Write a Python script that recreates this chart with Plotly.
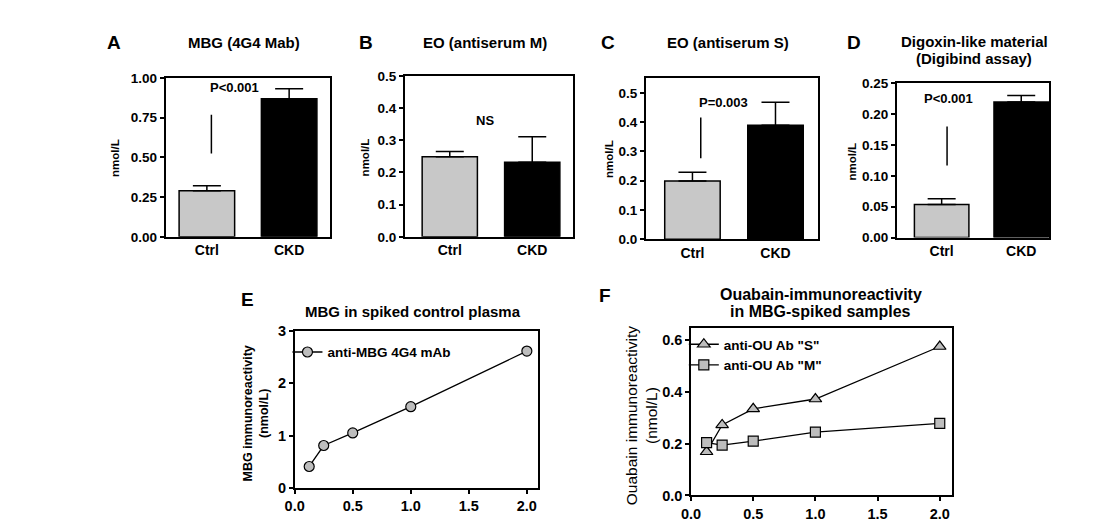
import plotly.graph_objects as go

W, H = 1100, 528
FONT = "Liberation Sans, Arial, Helvetica, sans-serif"

# ---------------- data ----------------
groups = ["Ctrl", "CKD"]
A_means = [0.29, 0.868]
A_sem = [0.031, 0.063]
B_means = [0.249, 0.232]
B_sem = [0.016, 0.079]
C_means = [0.199, 0.390]
C_sem = [0.030, 0.078]
D_means = [0.0533, 0.2196]
D_sem = [0.0094, 0.0104]

spike_mbg = [0.125, 0.25, 0.5, 1.0, 2.0]
E_mbg_4g4 = [0.41, 0.81, 1.05, 1.55, 2.61]
F_ab_S = [0.169, 0.273, 0.335, 0.373, 0.576]
F_ab_M = [0.204, 0.195, 0.210, 0.245, 0.279]

bar_colors = ["#c8c8c8", "#000000"]

# ---------------- layout helpers ----------------
def dx(x0, x1):
    return [x0 / W, x1 / W]

def dy(y_top, y_bot):
    return [1 - y_bot / H, 1 - y_top / H]

def px(x):
    return x / W

def py(y):
    return 1 - y / H

fig = go.Figure()
annotations = []
shapes = []

bar_panels = [
    dict(k="1", means=A_means, sem=A_sem, box=(157, 323.3, 72, 236), xr=[-0.502, 1.501],
         yr=[0, 1.0], dtick=0.25, fmt=".2f", w=0.675, letter="A", letter_x=105,
         title=["MBG (4G4 Mab)"], title_x=236, ylab_x=106.7),
    dict(k="2", means=B_means, sem=B_sem, box=(398.3, 568.3, 70, 236), xr=[-0.547, 1.496],
         yr=[0, 0.5], dtick=0.1, fmt=".1f", w=0.67, letter="B", letter_x=359.3,
         title=["EO (antiserum M)"], title_x=479, ylab_x=358.3),
    dict(k="3", means=C_means, sem=C_sem, box=(641.7, 815, 72, 238.4), xr=[-0.561, 1.507],
         yr=[0, 0.552], dtick=0.1, fmt=".1f", w=0.668, letter="C", letter_x=603.3,
         title=["EO (antiserum S)"], title_x=725, ylab_x=605),
    dict(k="4", means=D_means, sem=D_sem, box=(895, 1049, 77.5, 236.7), xr=[-0.563, 1.355],
         yr=[0, 0.25], dtick=0.05, fmt=".2f", w=0.685, letter="D", letter_x=851.7,
         title=["Digoxin-like material", "(Digibind assay)"], title_x=973, ylab_x=850),
]

axis_line = dict(showline=True, linecolor="black", linewidth=1.6, mirror=True,
                 showgrid=False, zeroline=False)

for p in bar_panels:
    k = p["k"]
    x0, x1, yt, yb = p["box"]
    fig.add_trace(go.Bar(
        x=groups, y=p["means"], width=p["w"],
        marker=dict(color=bar_colors, line=dict(color="black", width=1.5)),
        error_y=dict(type="data", symmetric=False, array=p["sem"], arrayminus=[0, 0],
                     width=14, thickness=1.5, color="black"),
        xaxis="x" + k, yaxis="y" + k, showlegend=False,
    ))
    fig.layout["xaxis" + k] = dict(
        domain=dx(x0, x1), anchor="y" + k, type="category", range=p["xr"],
        ticks="", tickfont=dict(family=FONT, size=14, color="black", weight="bold"),
        **axis_line)
    fig.layout["yaxis" + k] = dict(
        domain=dy(yt, yb), anchor="x" + k, range=p["yr"], dtick=p["dtick"], tick0=0,
        tickformat=p["fmt"], ticks="outside", ticklen=4, tickwidth=1.5, tickcolor="black",
        tickfont=dict(family=FONT, size=13.5, color="black", weight="bold"),
        **axis_line)
    annotations.append(dict(text=p["letter"], x=px(p["letter_x"]), y=py(36), xref="paper",
                            yref="paper", showarrow=False, xanchor="center", yanchor="middle",
                            font=dict(family=FONT, size=19, color="black", weight="bold")))
    tys = [36] if len(p["title"]) == 1 else [35, 52]
    for t, ty in zip(p["title"], tys):
        annotations.append(dict(text=t, x=px(p["title_x"]), y=py(ty), xref="paper", yref="paper",
                                showarrow=False, xanchor="center", yanchor="middle",
                                font=dict(family=FONT, size=15, color="black", weight="bold")))
    annotations.append(dict(text="nmol/L", x=px(p["ylab_x"]), y=py((yt + yb) / 2 + 1),
                            xref="paper", yref="paper", showarrow=False, textangle=-90,
                            xanchor="center", yanchor="middle",
                            font=dict(family=FONT, size=11.5, color="black", weight="bold")))

sig = [
    dict(k="1", text="P<0.001", tx=0.34, ty=0.937, line_x=0.055, line_y=[0.524, 0.768]),
    dict(k="2", text="NS", tx=0.427, ty=0.362, line_x=None, line_y=None),
    dict(k="3", text="P=0.003", tx=0.37, ty=0.467, line_x=0.10, line_y=[0.277, 0.416]),
    dict(k="4", text="P<0.001", tx=0.085, ty=0.225, line_x=0.068, line_y=[0.1166, 0.180]),
]
for s in sig:
    annotations.append(dict(text=s["text"], x=s["tx"], y=s["ty"], xref="x" + s["k"],
                            yref="y" + s["k"], showarrow=False, xanchor="center",
                            yanchor="middle",
                            font=dict(family=FONT, size=13, color="black", weight="bold")))
    if s["line_x"] is not None:
        shapes.append(dict(type="line", xref="x" + s["k"], yref="y" + s["k"],
                           x0=s["line_x"], x1=s["line_x"], y0=s["line_y"][0], y1=s["line_y"][1],
                           line=dict(color="black", width=1.5)))

# ---------------- panel E ----------------
marker_gray = "#bdbdbd"
fig.add_trace(go.Scatter(
    x=spike_mbg, y=E_mbg_4g4, mode="lines+markers", name="anti-MBG 4G4 mAb",
    line=dict(color="black", width=1.3),
    marker=dict(symbol="circle", size=10, color=marker_gray, line=dict(color="black", width=1.2)),
    xaxis="x5", yaxis="y5", legend="legend",
))
lin_tick = dict(ticks="outside", ticklen=4, tickwidth=1.5, tickcolor="black",
                tickfont=dict(family=FONT, size=14.5, color="black", weight="bold"))
fig.layout["xaxis5"] = dict(domain=dx(287.3, 532.5), anchor="y5", range=[0, 2.093], dtick=0.5,
                            tick0=0, tickformat=".1f", **lin_tick, **axis_line)
fig.layout["yaxis5"] = dict(domain=dy(332.7, 495), anchor="x5", range=[0, 3], dtick=1, tick0=0,
                            **lin_tick, **axis_line)
annotations.append(dict(text="E", x=px(240), y=py(300.7), xref="paper", yref="paper",
                        showarrow=False, xanchor="center", yanchor="middle",
                        font=dict(family=FONT, size=19, color="black", weight="bold")))
annotations.append(dict(text="MBG in spiked control plasma", x=px(407), y=py(313.3),
                        xref="paper", yref="paper", showarrow=False, xanchor="center",
                        yanchor="middle",
                        font=dict(family=FONT, size=15, color="black", weight="bold")))
annotations.append(dict(text="MBG immunoreactivity<br>(nmol/L)", x=px(248.3), y=py(418),
                        xref="paper", yref="paper", showarrow=False, textangle=-90,
                        xanchor="center", yanchor="middle",
                        font=dict(family=FONT, size=12.5, color="black", weight="bold")))

# ---------------- panel F ----------------
fig.add_trace(go.Scatter(
    x=spike_mbg, y=F_ab_S, mode="lines+markers", name='anti-OU Ab "S"',
    line=dict(color="black", width=1.3),
    marker=dict(symbol="triangle-up", size=11, color=marker_gray, line=dict(color="black", width=1.2)),
    xaxis="x6", yaxis="y6", legend="legend2", legendgroup="S",
))
fig.add_trace(go.Scatter(
    x=spike_mbg, y=F_ab_M, mode="lines+markers", name='anti-OU Ab "M"',
    line=dict(color="black", width=1.3),
    marker=dict(symbol="square", size=10, color=marker_gray, line=dict(color="black", width=1.2)),
    xaxis="x6", yaxis="y6", legend="legend2", legendgroup="M",
))
fig.layout["xaxis6"] = dict(domain=dx(687.3, 950.7), anchor="y6", range=[0, 2.099], dtick=0.5,
                            tick0=0, tickformat=".1f", **lin_tick, **axis_line)
fig.layout["yaxis6"] = dict(domain=dy(330, 502.7), anchor="x6", range=[0, 0.6476], dtick=0.2,
                            tick0=0, tickformat=".1f", **lin_tick, **axis_line)
annotations.append(dict(text="F", x=px(600), y=py(296.7), xref="paper", yref="paper",
                        showarrow=False, xanchor="center", yanchor="middle",
                        font=dict(family=FONT, size=19, color="black", weight="bold")))
for t, ty in zip(["Ouabain-immunoreactivity", "in MBG-spiked samples"], [295, 313.3]):
    annotations.append(dict(text=t, x=px(818.3), y=py(ty), xref="paper", yref="paper",
                            showarrow=False, xanchor="center", yanchor="middle",
                            font=dict(family=FONT, size=16, color="black", weight="bold")))
annotations.append(dict(text="Ouabain immunoreactivity<br>(nmol/L)", x=px(636.7), y=py(420),
                        xref="paper", yref="paper", showarrow=False, textangle=-90,
                        xanchor="center", yanchor="middle",
                        font=dict(family=FONT, size=15.5, color="black")))

legend_font = dict(family=FONT, size=13.5, color="black", weight="bold")
fig.update_layout(
    width=W, height=H,
    margin=dict(l=0, r=0, t=0, b=0),
    paper_bgcolor="white", plot_bgcolor="white",
    font=dict(family=FONT, color="black"),
    annotations=annotations, shapes=shapes,
    legend=dict(x=px(280), y=py(339), xanchor="left", yanchor="top", bgcolor="rgba(0,0,0,0)",
                font=legend_font, borderwidth=0),
    legend2=dict(x=px(680), y=py(331), xanchor="left", yanchor="top", bgcolor="rgba(0,0,0,0)",
                 font=legend_font, borderwidth=0, tracegroupgap=5, traceorder="normal"),
)

fig.write_html("out.html")
